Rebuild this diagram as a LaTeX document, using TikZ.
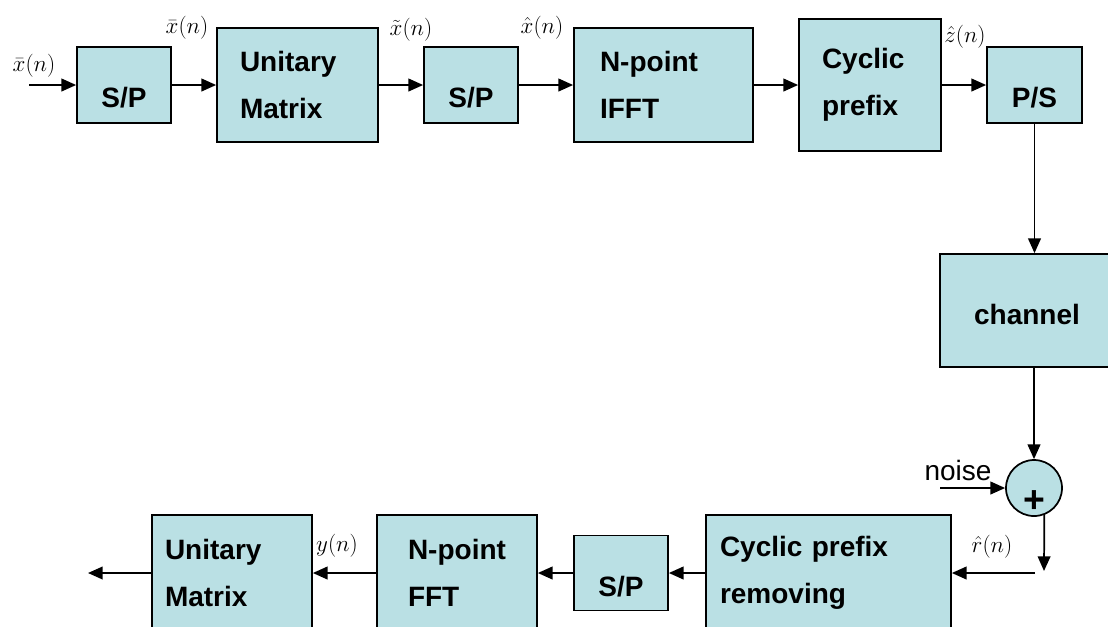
\documentclass[tikz,border=0pt]{standalone}
\usepackage{fontspec}
\setmainfont{Liberation Sans}
\usetikzlibrary{arrows.meta}
\definecolor{boxfill}{RGB}{186,224,228}
\tikzset{
  blk/.style={draw, fill=boxfill, line width=1.3pt, font=\bfseries\fontsize{21}{35}\selectfont, align=left},
  sblk/.style={draw, fill=boxfill, line width=1.3pt},
  lbl/.style={font=\bfseries\fontsize{21}{24}\selectfont},
  sig/.style={font=\fontsize{18}{20}\selectfont, inner sep=0pt},
  arr/.style={line width=1.3pt, -{Triangle[length=11pt,width=9.5pt]}},
}
\begin{document}
\begin{tikzpicture}[x=0.75pt,y=0.75pt,yscale=-1]
\useasboundingbox (0,0) rectangle (1108,626);

%Shape: transmitter row
\node [sblk, minimum width=70.5pt, minimum height=57pt, label={[lbl,yshift=-9.75pt]center:S/P}] (sp1) at (124,85) {};
\node [blk, text width=86.25pt, inner xsep=17.25pt, minimum height=85.5pt] (um1) at (297.5,85) {Unitary\\Matrix};
\node [sblk, minimum width=70.5pt, minimum height=57pt, label={[lbl,yshift=-9.75pt]center:S/P}] (sp2) at (471,85) {};
\node [blk, text width=95.25pt, inner xsep=19.5pt, minimum height=85.5pt] (ifft) at (663.5,85) {N-point\\IFFT};
\node [blk, text width=72pt, inner xsep=17.25pt, minimum height=99pt] (cp) at (870,85) {Cyclic\\prefix};
\node [sblk, minimum width=71.25pt, minimum height=57pt, label={[lbl,yshift=-9.75pt]center:P/S}] (ps) at (1034.5,85) {};

%Shape: channel and adder
\node [sblk, minimum width=130.5pt, minimum height=84.75pt, label={[lbl,yshift=-3pt]center:channel}] (ch) at (1027,310.5) {};
\node [sblk, circle, minimum size=42pt, inner sep=0pt, label={[font=\bfseries\fontsize{28}{30}\selectfont,yshift=-10pt]center:+}] (sum) at (1034,488) {};

%Shape: receiver row
\node [blk, text width=162.75pt, inner xsep=10.5pt, minimum height=87pt] (cpr) at (828.5,573) {Cyclic prefix\\removing};
\node [sblk, minimum width=70.5pt, minimum height=56.25pt, label={[lbl,yshift=-10pt]center:S/P}] (sp3) at (621,573) {};
\node [blk, text width=73.5pt, inner xsep=23.25pt, minimum height=87pt] (fft) at (457,573) {N-point\\FFT};
\node [blk, text width=100.5pt, inner xsep=9.75pt, minimum height=87pt] (um2) at (232,573) {Unitary\\Matrix};

%Free ends
\coordinate (xin) at (29,85);
\coordinate (nzin) at (940,488);
\coordinate (rdown) at (1044,571);
\coordinate (rin) at (1035,573);
\coordinate (yout) at (88,573);

%Straight Lines
\draw [arr] (xin) -- (sp1);
\draw [arr] (sp1) -- (um1);
\draw [arr] (um1) -- (sp2);
\draw [arr] (sp2) -- (ifft);
\draw [arr] (ifft) -- (cp);
\draw [arr] (cp) -- (ps);
\draw [arr] (ps.south) -- (ps.south |- ch.north);
\draw [arr] (sum |- ch.south) -- (sum.north);
\draw [arr] (nzin) -- (sum);
\draw [arr] (sum.-69) -- (rdown);
\draw [arr] (rin) -- (rin -| cpr.east);
\draw [arr] (cpr) -- (sp3);
\draw [arr] (sp3) -- (fft);
\draw [arr] (fft) -- (um2);
\draw [arr] (um2) -- (yout);

% Text Node
\node [sig] (lxin) at (34,66) {$\bar{x}(n)$};
\node [sig] (lxbar) at (187,28) {$\bar{x}(n)$};
\node [sig] (lxtil) at (411,30) {$\tilde{x}(n)$};
\node [sig] (lxhat) at (542,28) {$\hat{x}(n)$};
\node [sig] (lzhat) at (965,37) {$\hat{z}(n)$};
\node [sig] (lrhat) at (992,547) {$\hat{r}(n)$};
\node [sig] (ly) at (337,546) {$y(n)$};
\node [font=\fontsize{21}{24}\selectfont, inner sep=0pt] (noise) at (958,470) {noise};

\end{tikzpicture}
\end{document}
